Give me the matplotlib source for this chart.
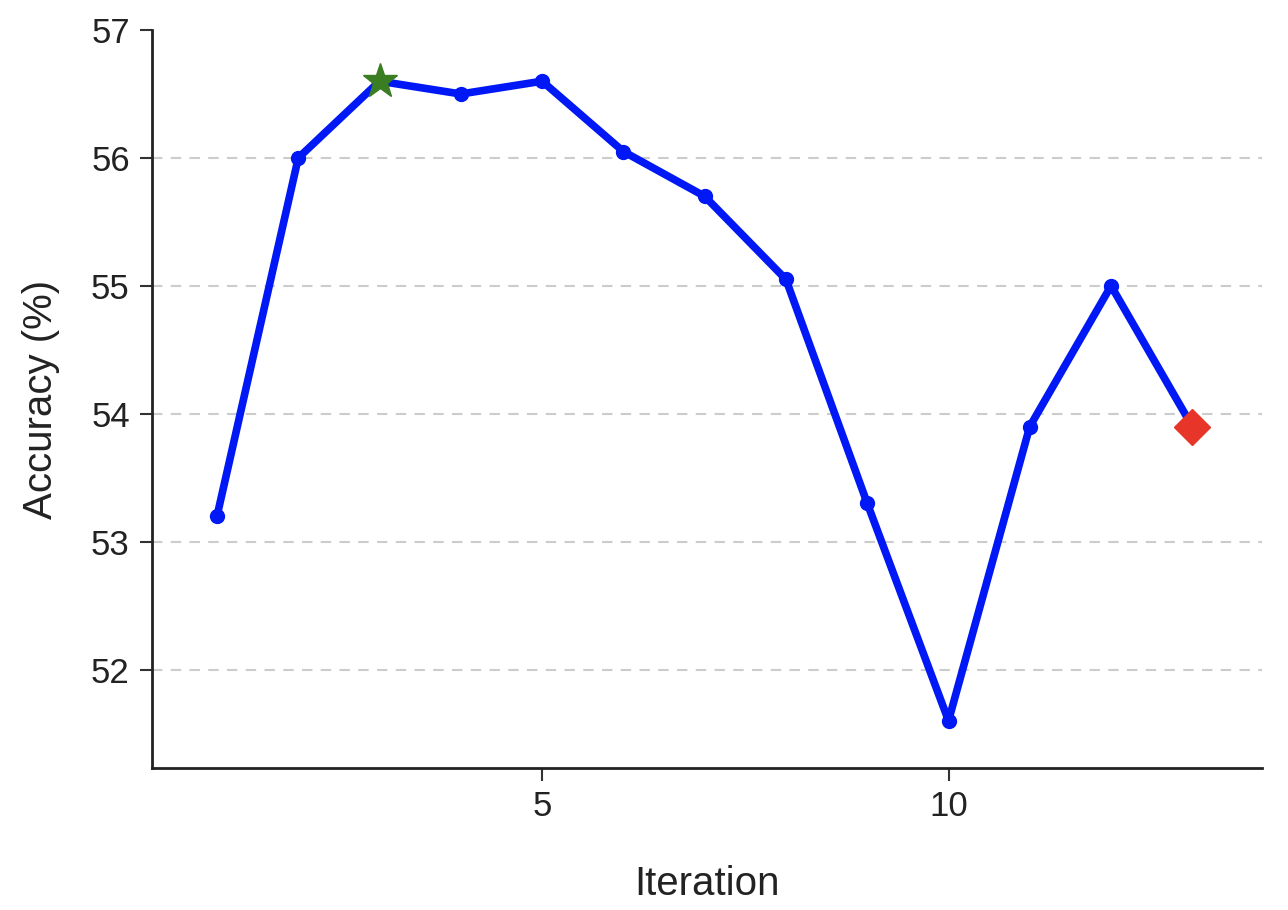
import matplotlib.pyplot as plt

plt.rcParams['font.family'] = ['Liberation Sans', 'DejaVu Sans']

# datos
iteraciones = list(range(1, 14))
precision = [53.2, 56.0, 56.6, 56.5, 56.6, 56.05, 55.7, 55.05, 53.3, 51.6, 53.9, 55.0, 53.9]
mejor = 2      # indice del maximo (estrella)
ultimo = 12    # indice final (rombo)

fig, ax = plt.subplots(figsize=(12.88, 9.1), dpi=100)
ax.plot(iteraciones, precision, color='#0018f5', linewidth=5.5, marker='o', markersize=10, zorder=3)
ax.plot(iteraciones[mejor], precision[mejor], marker='*', color='#3a7d22', markersize=26, zorder=4)
ax.plot(iteraciones[ultimo], precision[ultimo], marker='D', color='#e8352a', markersize=18, zorder=4)

ax.set_xlim(0.2, 13.86)
ax.set_ylim(51.23, 57.0)
ax.set_xticks([5, 10])
ax.set_yticks([52, 53, 54, 55, 56, 57])
ax.yaxis.grid(True, linestyle=(0, (5, 4)), color='#cccccc', linewidth=1.5)
ax.get_ygridlines()[-1].set_visible(False)
ax.set_axisbelow(True)
for lado in ['top', 'right']:
    ax.spines[lado].set_visible(False)
for lado in ['left', 'bottom']:
    ax.spines[lado].set_linewidth(2)
    ax.spines[lado].set_color('#222222')
ax.tick_params(labelsize=25, width=1.5, length=9, color='#333333', labelcolor='#222222', pad=7)
ax.set_xlabel('Iteration', fontsize=29, color='#222222', labelpad=30)
ax.set_ylabel('Accuracy (%)', fontsize=29, color='#222222', labelpad=22)

plt.subplots_adjust(left=0.118, right=0.98, top=0.967, bottom=0.156)
plt.savefig('out.png')
